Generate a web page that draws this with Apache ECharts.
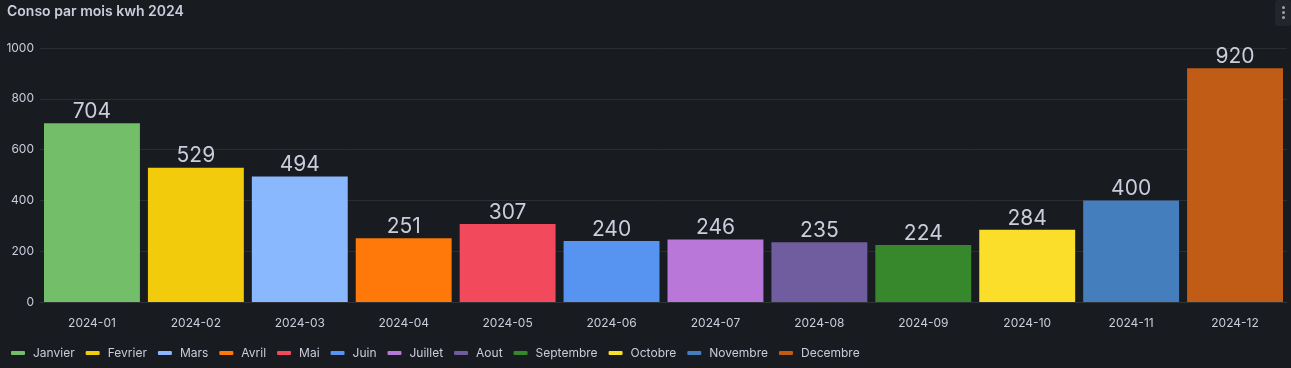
<!DOCTYPE html>
<html>
<head>
<meta charset="utf-8">
<script src="https://cdn.jsdelivr.net/npm/echarts@6/dist/echarts.min.js"></script>
<style>
html,body{margin:0;padding:0;background:#181b1f;}
#c{width:1291px;height:368px;}
</style>
</head>
<body>
<div id="c"></div>
<script>
const months = ['2024-01','2024-02','2024-03','2024-04','2024-05','2024-06','2024-07','2024-08','2024-09','2024-10','2024-11','2024-12'];
const seriesNames = ['Janvier','Fevrier','Mars','Avril','Mai','Juin','Juillet','Aout','Septembre','Octobre','Novembre','Decembre'];
const values = [704,529,494,251,307,240,246,235,224,284,400,920];
const yTicks = [0,200,400,600,800,1000];

const palette = ['#73BF69','#F2CC0C','#8AB8FF','#FF780A','#F2495C','#5794F2','#B877D9','#705DA0','#37872D','#FADE2A','#447EBC','#C15C17'];
const textColor = '#ccccdc';

const chart = echarts.init(document.getElementById('c'));
const series = seriesNames.map((name, i) => ({
  name: name,
  type: 'bar',
  stack: 'all',
  barCategoryGap: '7.7%',
  data: months.map((m, j) => j === i ? values[i] : '-'),
  itemStyle: { color: palette[i] },
  label: {
    show: true,
    position: 'top',
    distance: 1,
    color: textColor,
    fontSize: 21,
    fontFamily: 'Inter'
  }
}));

chart.setOption({
  backgroundColor: '#181b1f',
  animation: false,
  title: {
    text: 'Conso par mois kwh 2024',
    left: 2,
    top: 0,
    textStyle: { color: textColor, fontSize: 14, fontWeight: 600, fontFamily: 'Inter' }
  },
  legend: {
    left: 6,
    top: 342,
    itemWidth: 14,
    itemHeight: 4,
    itemGap: 11,
    icon: 'roundRect',
    textStyle: { color: textColor, fontSize: 12, fontFamily: 'Inter', padding: [0,0,0,3] },
    data: seriesNames
  },
  grid: { left: 40, right: 4, top: 48, bottom: 66 },
  xAxis: {
    type: 'category',
    data: months,
    axisLine: { show: true, lineStyle: { color: '#2f3237' } },
    axisTick: { show: false },
    axisLabel: { color: textColor, fontSize: 12, fontFamily: 'Inter', margin: 15 }
  },
  yAxis: {
    type: 'value',
    min: yTicks[0],
    max: yTicks[yTicks.length - 1],
    interval: 200,
    axisLabel: { color: textColor, fontSize: 12, fontFamily: 'Inter', margin: 6, formatter: v => String(v) },
    splitLine: { lineStyle: { color: '#2a2d32' } },
    axisLine: { show: false },
    axisTick: { show: false }
  },
  graphic: [
    { type: 'rect', right: 0, top: 0, shape: { width: 16, height: 26, r: 3 }, style: { fill: '#22252b' } },
    { type: 'circle', left: 1282, top: 6, shape: { r: 1.5 }, style: { fill: '#9fa1a8' } },
    { type: 'circle', left: 1282, top: 11, shape: { r: 1.5 }, style: { fill: '#9fa1a8' } },
    { type: 'circle', left: 1282, top: 16, shape: { r: 1.5 }, style: { fill: '#9fa1a8' } }
  ],
  series: series
});
</script>
</body>
</html>
